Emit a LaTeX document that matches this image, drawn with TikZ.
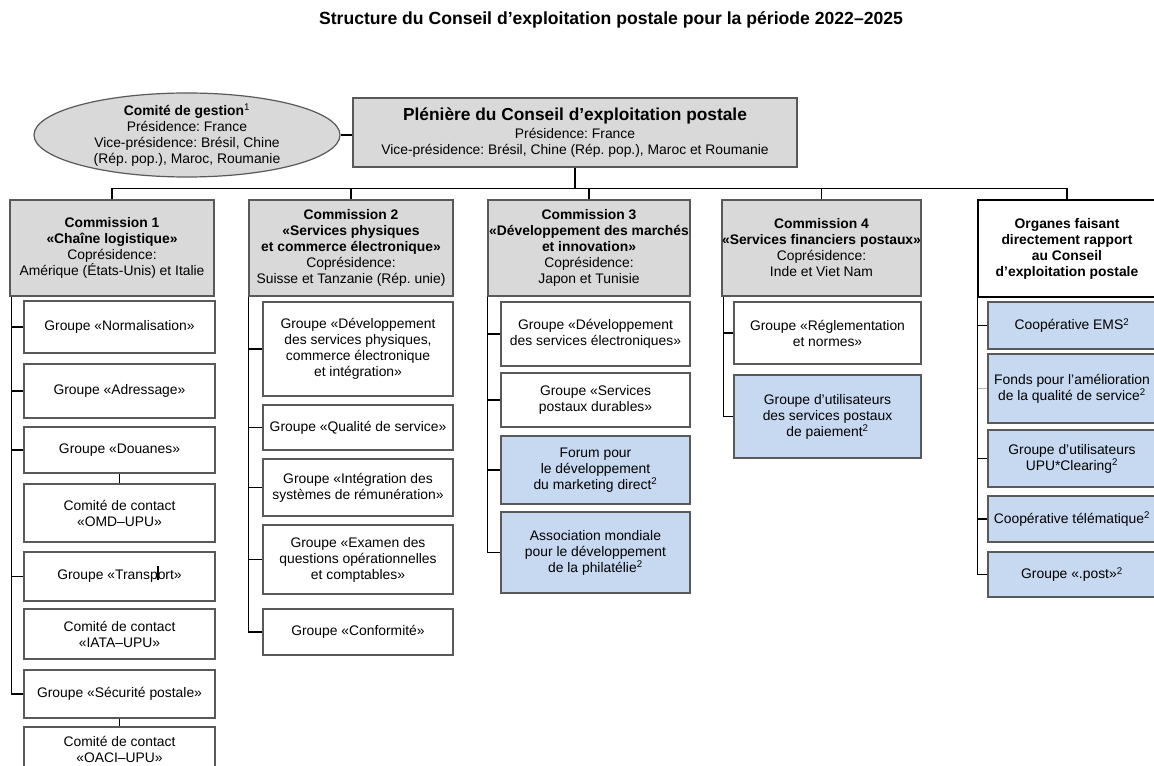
\documentclass[tikz,border=0pt]{standalone}
\usepackage{fontspec}
\setmainfont{Liberation Sans}
\usetikzlibrary{positioning,shapes.geometric}
\definecolor{grisfond}{HTML}{D9D9D9}
\definecolor{bleufond}{HTML}{C6D9F0}
\definecolor{trait}{HTML}{595959}
\frenchspacing

\tikzset{
  comm/.style={draw=trait, line width=0.9pt, fill=grisfond, align=center, inner xsep=0pt, inner ysep=1pt, font=\fontsize{10.4}{12}\selectfont},
  grp/.style={draw=trait, line width=0.9pt, align=center, inner sep=1pt, font=\fontsize{10.4}{12}\selectfont},
  lien/.style={draw=black, line width=1pt}
}

\begin{document}
\begin{tikzpicture}[x=0.75pt, y=-0.75pt]
\useasboundingbox (0,0) rectangle (1154,766);

\node[font=\fontsize{13.2}{15}\selectfont\bfseries] (titre) at (611,20) {Structure du Conseil d’exploitation postale pour la période 2022–2025};

% pleniere et comite de gestion
\node[comm, minimum width=333pt, minimum height=51.75pt] (plen) at (575,132.5)
  {{\fontsize{13}{15}\selectfont\bfseries Plénière du Conseil d’exploitation postale}\\[1pt]
   Présidence: France\\Vice-présidence: Brésil, Chine (Rép. pop.), Maroc et Roumanie};
\node[comm, ellipse, inner xsep=0pt, inner ysep=-2pt, minimum width=229.5pt, minimum height=63pt] (gest) at (187,135)
  {\textbf{Comité de gestion}\textsuperscript{1}\\Présidence: France\\Vice-présidence: Brésil, Chine\\(Rép. pop.), Maroc, Roumanie};
\draw[lien] (gest.east) -- (gest.east -| plen.west);

% commissions
\node[comm, minimum width=153pt, minimum height=72pt] (c1) at (112,248)
  {\textbf{Commission 1}\\\textbf{«Chaîne logistique»}\\Coprésidence:\\Amérique (États-Unis) et Italie};
\node[comm, minimum width=153pt, minimum height=72pt] (c2) at (351,248)
  {\textbf{Commission 2}\\\textbf{«Services physiques}\\\textbf{et commerce électronique»}\\Coprésidence:\\Suisse et Tanzanie (Rép. unie)};
\node[comm, minimum width=151.5pt, minimum height=72pt] (c3) at (589,248)
  {\textbf{Commission 3}\\\textbf{«Développement des marchés}\\\textbf{et innovation»}\\Coprésidence:\\Japon et Tunisie};
\node[comm, minimum width=147.75pt, minimum height=72pt] (c4) at (821.5,248)
  {\textbf{Commission 4}\\\textbf{«Services financiers postaux»}\\Coprésidence:\\Inde et Viet Nam};
\node[comm, fill=white, draw=black, line width=2.2pt, minimum width=133.5pt, minimum height=72.75pt] (org) at (1067,248.5)
  {\textbf{Organes faisant}\\\textbf{directement rapport}\\\textbf{au Conseil}\\\textbf{d'exploitation postale}};

\coordinate (bus) at (572,188.5);
\draw[lien] (plen.south) -- (plen.south |- bus);
\draw[lien] (c1.north) -- (c1.north |- bus) -| (org.north);
\foreach \c in {c2,c3,c4} \draw[lien] (\c.north) -- (\c.north |- bus);

% groupes
\foreach \n/\f/\ya/\yb/\t in {
  norm/white/301/353/{Groupe «Normalisation»},
  adr/white/364/418/{Groupe «Adressage»},
  dou/white/427/473/{Groupe «Douanes»},
  omd/white/484/542/{Comité de contact\\«OMD–UPU»},
  transp/white/552/601/{Groupe «Transport»},
  iata/white/609/659/{Comité de contact\\«IATA–UPU»},
  secu/white/670/718/{Groupe «Sécurité postale»},
  oaci/white/727/771/{Comité de contact\\«OACI–UPU»}}
  \node[grp, fill=\f, minimum width=143.25pt, minimum height={(\yb-\ya)*0.75pt}] (\n) at (119.5,{(\ya+\yb)/2}) {\t};

\foreach \n/\f/\ya/\yb/\t in {
  dphys/white/302/396/{Groupe «Développement\\des services physiques,\\commerce électronique\\et intégration»},
  qual/white/405/450/{Groupe «Qualité de service»},
  integ/white/459/516/{Groupe «Intégration des\\systèmes de rémunération»},
  exam/white/525/594/{Groupe «Examen des\\questions opérationnelles\\et comptables»},
  conf/white/609/655/{Groupe «Conformité»}}
  \node[grp, fill=\f, minimum width=142.5pt, minimum height={(\yb-\ya)*0.75pt}] (\n) at (358,{(\ya+\yb)/2}) {\t};

\foreach \n/\f/\ya/\yb/\t in {
  delec/white/302/366/{Groupe «Développement\\des services électroniques»},
  durab/white/373/427/{Groupe «Services\\postaux durables»},
  forum/bleufond/436/504/{Forum pour\\le développement\\du marketing direct\textsuperscript{2}},
  phila/bleufond/512/593/{Association mondiale\\pour le développement\\de la philatélie\textsuperscript{2}}}
  \node[grp, fill=\f, minimum width=141.75pt, minimum height={(\yb-\ya)*0.75pt}] (\n) at (595.5,{(\ya+\yb)/2}) {\t};

\foreach \n/\f/\ya/\yb/\t in {
  regl/white/302/364/{Groupe «Réglementation\\et normes»},
  paie/bleufond/375/458/{Groupe d'utilisateurs\\des services postaux\\de paiement\textsuperscript{2}}}
  \node[grp, fill=\f, minimum width=140.25pt, minimum height={(\yb-\ya)*0.75pt}] (\n) at (827.5,{(\ya+\yb)/2}) {\t};

\foreach \n/\f/\ya/\yb/\t in {
  ems/bleufond/302/349/{Coopérative EMS\textsuperscript{2}},
  fonds/bleufond/354/423/{Fonds pour l'amélioration\\de la qualité de service\textsuperscript{2}},
  clear/bleufond/430/487/{Groupe d'utilisateurs\\UPU*Clearing\textsuperscript{2}},
  tele/bleufond/496/542/{Coopérative télématique\textsuperscript{2}},
  post/bleufond/552/597/{Groupe «.post»\textsuperscript{2}}}
  \node[grp, fill=\f, minimum width=126pt, minimum height={(\yb-\ya)*0.75pt}] (\n) at (1072,{(\ya+\yb)/2}) {\t};

% liaisons des groupes
\coordinate (s1) at ([xshift=1.5pt]c1.south west);
\coordinate (s2) at ([xshift=0.3pt]c2.south west);
\coordinate (s3) at ([xshift=0.3pt]c3.south west);
\coordinate (s4) at ([xshift=1.5pt]c4.south west);
\coordinate (s5) at ([xshift=0.8pt]org.south west);

\foreach \g in {norm,adr,dou,transp} \draw[lien] (s1 |- \g.west) -- (\g.west);
\draw[lien] (s1) |- (secu.west);
\draw[lien] (dou) -- (omd);
\draw[lien] (secu) -- (oaci);
\draw[lien] ([shift={(28.9pt,-11.25pt)}]transp.north) -- ++(0,14);

\foreach \g in {dphys,qual,integ,exam} \draw[lien] (s2 |- \g.west) -- (\g.west);
\draw[lien] (s2) |- (conf.west);

\foreach \g in {delec,durab,forum} \draw[lien] (s3 |- \g.west) -- (\g.west);
\draw[lien] (s3) |- (phila.west);

\draw[lien] (s4 |- regl.west) -- (regl.west);
\draw[lien] (s4) |- (paie.west);

\foreach \g in {ems,clear,tele} \draw[lien] (s5 |- \g.west) -- (\g.west);
\draw[lien, draw=black!30] (s5 |- fonds.west) -- (fonds.west);
\draw[lien] (s5) |- (post.west);
\end{tikzpicture}
\end{document}
